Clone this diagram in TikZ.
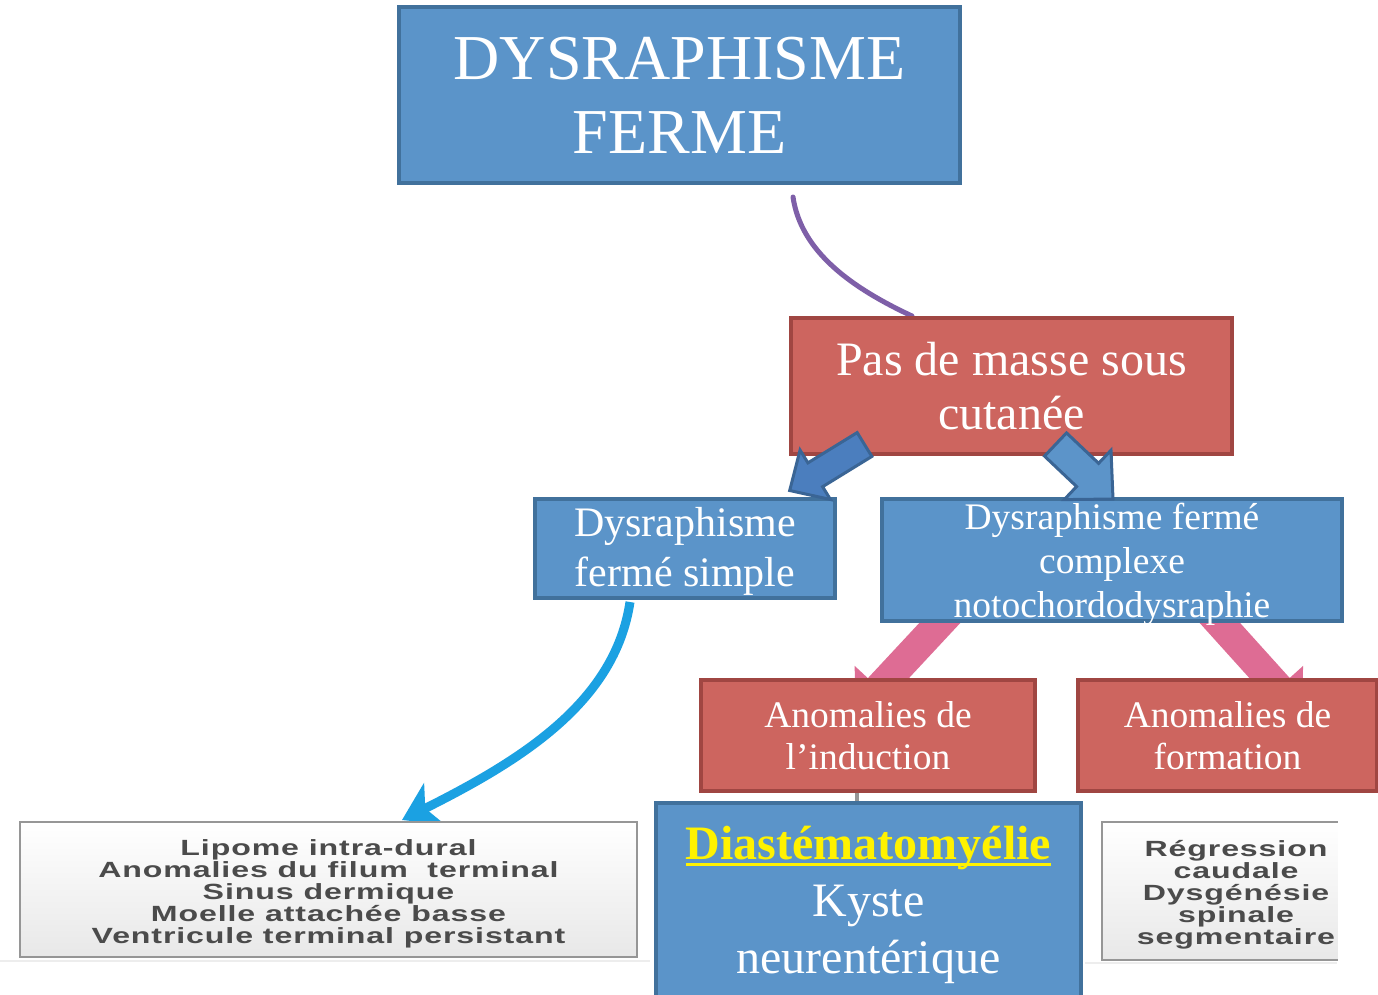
\documentclass[tikz,border=0pt]{standalone}
\usepackage{fontspec}
\setmainfont{Liberation Serif}
\newfontfamily\grayfont{Liberation Sans}[FakeStretch=1.46,LetterSpace=4,BoldFeatures={FakeStretch=1.46,LetterSpace=4}]
\usetikzlibrary{calc,arrows.meta,backgrounds}
\definecolor{bfill}{RGB}{91,148,201}
\definecolor{bdraw}{RGB}{65,113,156}
\definecolor{rfill}{RGB}{205,101,95}
\definecolor{rdraw}{RGB}{160,70,66}
\definecolor{arrL}{RGB}{75,126,190}
\definecolor{arrR}{RGB}{92,148,201}
\definecolor{arrD}{RGB}{58,101,149}
\definecolor{purp}{RGB}{126,95,168}
\definecolor{cyanA}{RGB}{27,161,226}
\definecolor{pinkA}{RGB}{222,108,148}
\definecolor{grayT}{RGB}{75,75,75}
\definecolor{grayB}{RGB}{150,150,150}
\newcommand\myul[1]{\setbox0\hbox{#1}\rlap{#1}\rule[-6pt]{\wd0}{3pt}}
\newcommand\blockarr[6]{%
  \path (#3) coordinate (bkB) ($(#3)!#6!(#2)$) coordinate (bkH);
  \draw[#1] ($(#2)!#4!90:(#3)$) -- ($(bkH)!#4!90:(#3)$) -- ($(bkH)!#5!90:(#3)$) -- (bkB)
    -- ($(bkH)!#5!-90:(#3)$) -- ($(bkH)!#4!-90:(#3)$) -- ($(#2)!#4!-90:(#3)$) -- cycle;
}
\begin{document}
\begin{tikzpicture}[x=1pt,y=1pt,
  bbox/.style={draw=bdraw, fill=bfill, line width=4pt, text=white, align=center, inner sep=0pt},
  rbox/.style={draw=rdraw, fill=rfill, line width=4pt, text=white, align=center, inner sep=0pt},
  wtext/.style={text=white, align=center, inner sep=0pt},
  gbox/.style={draw=grayB, line width=2pt, top color=white, bottom color=black!9, inner sep=0pt},
  gtext/.style={text=grayT, align=center, inner sep=0pt, font=\grayfont\bfseries\fontsize{22}{22}\selectfont},
  conn/.style={line cap=round}]
\useasboundingbox (0,0) rectangle (1378,-994);
% gray boxes
\node[gbox, minimum width=617pt, minimum height=135pt] (g1) at (328.5,-889.5) {};
\node[gtext] (g1t) at ($(g1.center)+(0,-4)$)
  {Lipome intra-dural\\Anomalies du filum~ terminal\\Sinus dermique\\Moelle attachée basse\\Ventricule terminal persistant};
\node[gbox, minimum width=268pt, minimum height=138pt] (g2) at (1236,-891) {};
\node[gtext] (g2t) at ($(g2.center)+(0,-4)$)
  {Régression\\caudale\\Dysgénésie\\spinale\\segmentaire};
\fill[white] (1338,-810) rectangle (1378,-972);
% boxes
\node[bbox, minimum width=561pt, minimum height=176pt, font=\fontsize{64}{74}\selectfont] (top) at (679.5,-95) {DYSRAPHISME\\FERME};
\node[rbox, minimum width=441pt, minimum height=136pt, font=\fontsize{48}{54}\selectfont] (pas) at (1011.5,-386) {Pas de masse sous\\cutanée};
\node[bbox, minimum width=300pt, minimum height=99pt] (simple) at (685,-548.5) {};
\node[wtext, font=\fontsize{42}{50}\selectfont] (simplet) at ($(simple.center)+(0,-3)$) {Dysraphisme\\fermé simple};
\node[bbox, minimum width=460pt, minimum height=122pt] (cx) at (1112,-560) {};
\node[wtext, font=\fontsize{37.5}{44}\selectfont] (cxt) at ($(cx.center)+(0,-4)$) {Dysraphisme fermé\\complexe\\notochordodysraphie};
\node[rbox, minimum width=334pt, minimum height=111pt, font=\fontsize{37.5}{42}\selectfont] (ind) at (868,-735.5) {Anomalies de\\l’induction};
\node[rbox, minimum width=299pt, minimum height=111pt, font=\fontsize{37.5}{42}\selectfont] (form) at (1227.5,-735.5) {Anomalies de\\formation};
\node[bbox, minimum width=425pt, minimum height=204pt, anchor=north, font=\fontsize{48}{57}\selectfont] (dia) at (868.5,-801)
  {\textcolor{yellow}{\bfseries\myul{Diastématomyélie}}\\Kyste\\neurentérique};
% connectors behind
\begin{pgfonlayer}{background}
\fill[white] (0,0) rectangle (1378,-994);
\draw[black!7, line width=1.5pt] (0,-961) -- (650,-961);
\draw[black!7, line width=1.5pt] (1085,-963) -- (1337,-963);
\draw[purp, line width=5pt, conn] ([shift={(113.5,-12)}]top.south) .. controls +(8,-55) and +(-60,28) .. ([shift={(-99.5,0)}]pas.north);
\coordinate (pl1) at ($(cx.south)+(-162,11)$);
\coordinate (pl2) at ($(cx.south)+(-257,-91)$);
\coordinate (pr1) at ($(cx.south)+(98,11)$);
\coordinate (pr2) at ($(cx.south)+(190,-91)$);
\blockarr{fill=pinkA, draw=none}{pl1}{pl2}{15pt}{33pt}{35pt}
\blockarr{fill=pinkA, draw=none}{pr1}{pr2}{15pt}{33pt}{35pt}
\draw[cyanA, line width=9pt, -{Stealth[length=36pt,width=46pt,inset=10pt]}] ([shift={(-55,-2)}]simple.south) .. controls +(-15,-100) and +(120,60) .. ([shift={(73.5,1)}]g1.north);
\draw[grayB, line width=4pt] ([xshift=-11pt]ind.south) -- ([xshift=-11.5pt]dia.north);
\end{pgfonlayer}
% block arrows on top
\coordinate (la1) at ($(pas.south west)+(75.5,11.5)$);
\coordinate (la2) at ($(pas.south west)+(0.7,-34.5)$);
\blockarr{fill=arrL, draw=arrD, line width=3pt}{la1}{la2}{14pt}{29pt}{30pt}
\coordinate (ra1) at ($(pas.south west)+(266.5,11.5)$);
\coordinate (ra2) at ($(pas.south west)+(324,-43)$);
\blockarr{fill=arrR, draw=arrD, line width=3pt}{ra1}{ra2}{16pt}{34pt}{35pt}
\end{tikzpicture}
\end{document}
